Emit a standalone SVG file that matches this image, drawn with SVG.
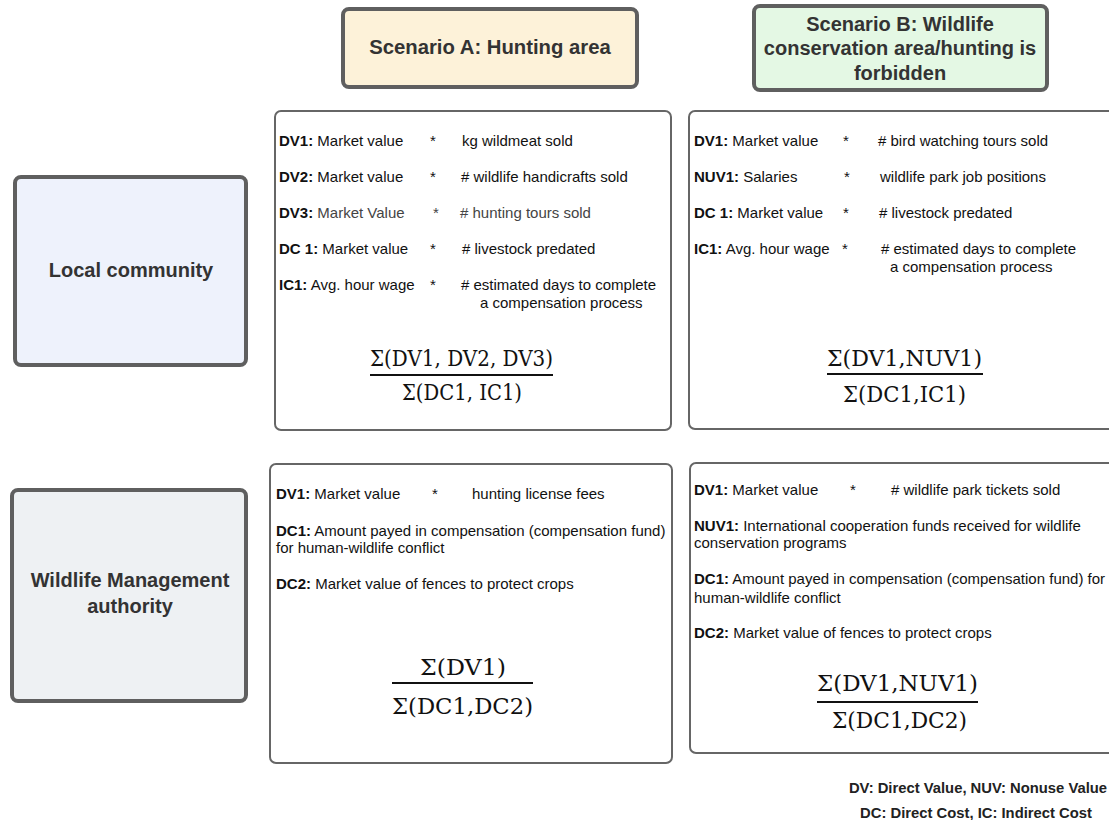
<svg xmlns="http://www.w3.org/2000/svg" width="1109" height="820" viewBox="0 0 1109 820">
<style>
.hdr{stroke:#5f5f5f;stroke-width:4}
.panel{fill:#fff;stroke:#666;stroke-width:2}
.title{font-family:"Liberation Sans",Arial,sans-serif;font-weight:bold;font-size:20px;fill:#333;text-anchor:middle}
.t{font-family:"Liberation Sans",Arial,sans-serif;font-size:15px;fill:#111}
.b{font-weight:bold}
.star{text-anchor:middle}
.f{font-family:"DejaVu Serif","Liberation Serif",serif;font-size:23px;fill:#111;text-anchor:middle}
.fl{stroke:#111;stroke-width:2}
.leg{font-family:"Liberation Sans",Arial,sans-serif;font-weight:bold;font-size:14.8px;fill:#222;text-anchor:middle}
</style>
<rect width="1109" height="820" fill="#fff"/>
<g id="scenarioA">
<rect class="hdr" x="343" y="9" width="294" height="78" rx="6" fill="#fdf2d9"/>
<text class="title" x="490" y="54" style="font-size:20.3px">Scenario A: Hunting area</text>
</g>
<g id="scenarioB">
<rect class="hdr" x="754" y="6" width="293" height="84" rx="6" fill="#e4f8e4"/>
<text class="title" x="900" y="31">Scenario B: Wildlife</text>
<text class="title" x="900" y="55">conservation area/hunting is</text>
<text class="title" x="900" y="80">forbidden</text>
</g>
<g id="localCommunity">
<rect class="hdr" x="15" y="177" width="231" height="188" rx="6" fill="#eef2fc"/>
<text class="title" x="131" y="277">Local community</text>
</g>
<g id="wildlifeAuthority">
<rect class="hdr" x="12" y="490" width="234" height="211" rx="6" fill="#eef1f3"/>
<text class="title" x="130" y="587">Wildlife Management</text>
<text class="title" x="130" y="613">authority</text>
</g>
<g id="panelA1">
<rect class="panel" x="275" y="111" width="396" height="319" rx="6"/>
<text class="t" x="279" y="146"><tspan class="b">DV1:</tspan> Market value</text>
<text class="t star" x="433" y="146">*</text>
<text class="t" x="462" y="146">kg wildmeat sold</text>
<text class="t" x="279" y="182"><tspan class="b">DV2:</tspan> Market value</text>
<text class="t star" x="433" y="182">*</text>
<text class="t" x="461" y="182"># wildlife handicrafts sold</text>
<text class="t" x="279" y="218" style="fill:#444"><tspan class="b" style="fill:#111">DV3:</tspan> Market Value</text>
<text class="t star" x="436" y="218" style="fill:#444">*</text>
<text class="t" x="460" y="218" style="fill:#444"># hunting tours sold</text>
<text class="t" x="279" y="254"><tspan class="b">DC 1:</tspan> Market value</text>
<text class="t star" x="433" y="254">*</text>
<text class="t" x="462" y="254"># livestock predated</text>
<text class="t" x="279" y="290"><tspan class="b">IC1:</tspan> Avg. hour wage</text>
<text class="t star" x="433" y="290">*</text>
<text class="t" x="461" y="290"># estimated days to complete</text>
<text class="t" x="480" y="308">a compensation process</text>
<text class="f" x="461.5" y="366" textLength="183" lengthAdjust="spacingAndGlyphs">Σ(DV1, DV2, DV3)</text>
<line class="fl" x1="370" y1="375" x2="553" y2="375"/>
<text class="f" x="462" y="400" textLength="120" lengthAdjust="spacingAndGlyphs">Σ(DC1, IC1)</text>
</g>
<g id="panelB1">
<rect class="panel" x="689" y="111" width="430" height="318" rx="6"/>
<text class="t" x="694" y="146"><tspan class="b">DV1:</tspan> Market value</text>
<text class="t star" x="846" y="146">*</text>
<text class="t" x="878" y="146"># bird watching tours sold</text>
<text class="t" x="694" y="182"><tspan class="b">NUV1:</tspan> Salaries</text>
<text class="t star" x="847" y="182">*</text>
<text class="t" x="880" y="182">wildlife park job positions</text>
<text class="t" x="694" y="218"><tspan class="b">DC 1:</tspan> Market value</text>
<text class="t star" x="846" y="218">*</text>
<text class="t" x="879" y="218"># livestock predated</text>
<text class="t" x="694" y="254"><tspan class="b">IC1:</tspan> Avg. hour wage</text>
<text class="t star" x="845" y="254">*</text>
<text class="t" x="881" y="254"># estimated days to complete</text>
<text class="t" x="890" y="272">a compensation process</text>
<text class="f" x="904.5" y="366" textLength="155" lengthAdjust="spacingAndGlyphs">Σ(DV1,NUV1)</text>
<line class="fl" x1="827" y1="374" x2="983" y2="374"/>
<text class="f" x="904.5" y="402" textLength="123" lengthAdjust="spacingAndGlyphs">Σ(DC1,IC1)</text>
</g>
<g id="panelA2">
<rect class="panel" x="270" y="464" width="402" height="299" rx="6"/>
<text class="t" x="276" y="499"><tspan class="b">DV1:</tspan> Market value</text>
<text class="t star" x="435" y="499">*</text>
<text class="t" x="472" y="499">hunting license fees</text>
<text class="t" x="276" y="536"><tspan class="b">DC1:</tspan> Amount payed in compensation (compensation fund)</text>
<text class="t" x="276" y="553">for human-wildlife conflict</text>
<text class="t" x="276" y="589"><tspan class="b">DC2:</tspan> Market value of fences to protect crops</text>
<text class="f" x="463" y="675" textLength="86" lengthAdjust="spacingAndGlyphs">Σ(DV1)</text>
<line class="fl" x1="392" y1="683" x2="533" y2="683"/>
<text class="f" x="462.5" y="714" textLength="141" lengthAdjust="spacingAndGlyphs">Σ(DC1,DC2)</text>
</g>
<g id="panelB2">
<rect class="panel" x="690" y="463" width="430" height="290" rx="6"/>
<text class="t" x="694" y="495"><tspan class="b">DV1:</tspan> Market value</text>
<text class="t star" x="853" y="495">*</text>
<text class="t" x="891" y="495"># wildlife park tickets sold</text>
<text class="t" x="694" y="531"><tspan class="b">NUV1:</tspan> International cooperation funds received for wildlife</text>
<text class="t" x="694" y="548">conservation programs</text>
<text class="t" x="694" y="584"><tspan class="b">DC1:</tspan> Amount payed in compensation (compensation fund) for</text>
<text class="t" x="694" y="603">human-wildlife conflict</text>
<text class="t" x="694" y="638"><tspan class="b">DC2:</tspan> Market value of fences to protect crops</text>
<text class="f" x="897.5" y="691" textLength="161" lengthAdjust="spacingAndGlyphs">Σ(DV1,NUV1)</text>
<line class="fl" x1="817" y1="702" x2="978" y2="702"/>
<text class="f" x="899.5" y="728" textLength="135" lengthAdjust="spacingAndGlyphs">Σ(DC1,DC2)</text>
</g>
<g id="connectors"/>
<g id="legend">
<text class="leg" x="978" y="793">DV: Direct Value, NUV: Nonuse Value</text>
<text class="leg" x="976" y="818">DC: Direct Cost, IC: Indirect Cost</text>
</g>
</svg>
